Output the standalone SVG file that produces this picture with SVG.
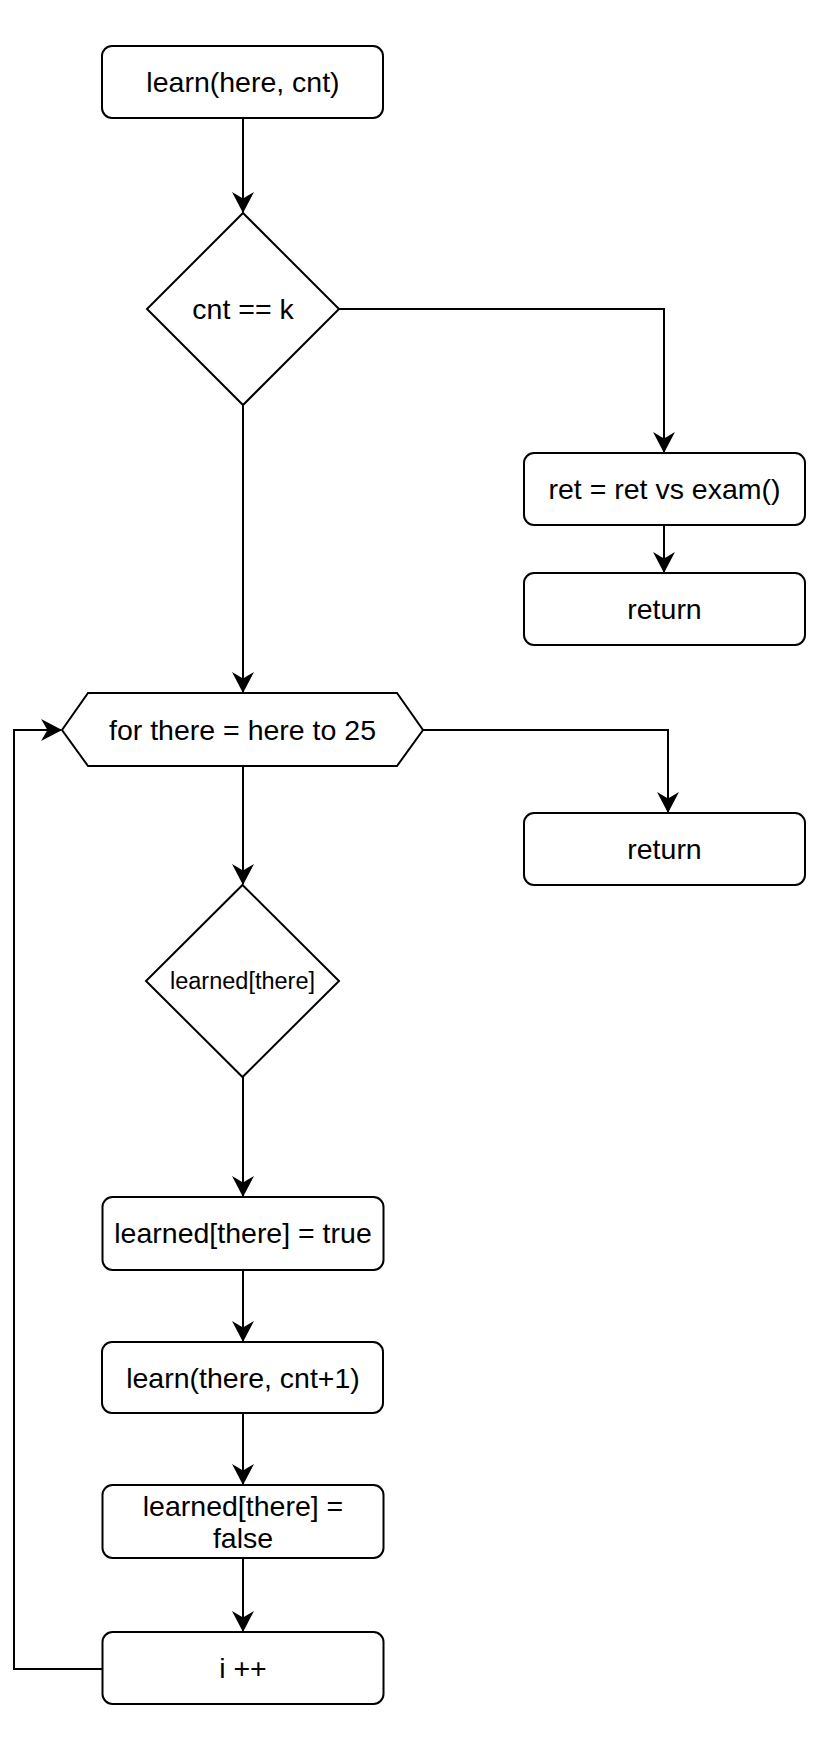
<svg xmlns="http://www.w3.org/2000/svg" width="830" height="1760" viewBox="0 0 830 1760">
<style>
.n{fill:#fff;stroke:#000;stroke-width:2}
.t{font-family:"Liberation Sans",Arial,Helvetica,sans-serif;font-size:28.5px;fill:#000;text-anchor:middle}
.s{font-size:23.5px}
.c{fill:none;stroke:#000;stroke-width:2}
</style>
<defs>
<marker id="a" markerUnits="userSpaceOnUse" markerWidth="22" markerHeight="22" viewBox="0 0 20 21" refX="19" refY="10.5" orient="auto">
<path d="M0,0 L20,10.5 L0,21 L6,10.5 Z" fill="#000"/>
</marker>
</defs>
<rect width="830" height="1760" fill="#fff"/>
<g id="connectors">
<path class="c" d="M243,118 V212" marker-end="url(#a)"/>
<path class="c" d="M339,309 H664 V452" marker-end="url(#a)"/>
<path class="c" d="M664,525 V572" marker-end="url(#a)"/>
<path class="c" d="M243,405 V692" marker-end="url(#a)"/>
<path class="c" d="M422,730 H668 V812" marker-end="url(#a)"/>
<path class="c" d="M243,766 V884" marker-end="url(#a)"/>
<path class="c" d="M243,1077 V1196" marker-end="url(#a)"/>
<path class="c" d="M243,1270 V1341" marker-end="url(#a)"/>
<path class="c" d="M243,1413 V1484" marker-end="url(#a)"/>
<path class="c" d="M243,1558 V1631" marker-end="url(#a)"/>
<path class="c" d="M102,1669 H14 V730 H61" marker-end="url(#a)"/>
</g>
<g id="start">
<rect class="n" x="102" y="46" width="281" height="72" rx="10"/>
<text class="t" x="243" y="92">learn(here, cnt)</text>
</g>
<g id="cond1">
<polygon class="n" points="243,213 339,309 243,405 147,309"/>
<text class="t" x="243" y="319">cnt == k</text>
</g>
<g id="ret">
<rect class="n" x="524" y="453" width="281" height="72" rx="10"/>
<text class="t" x="664.5" y="499">ret = ret vs exam()</text>
</g>
<g id="return1">
<rect class="n" x="524" y="573" width="281" height="72" rx="10"/>
<text class="t" x="664.5" y="619">return</text>
</g>
<g id="loop">
<polygon class="n" points="62,730 88,693 397,693 423,730 397,766 88,766"/>
<text class="t" x="242.5" y="740">for there = here to 25</text>
</g>
<g id="return2">
<rect class="n" x="524" y="813" width="281" height="72" rx="10"/>
<text class="t" x="664.5" y="859">return</text>
</g>
<g id="cond2">
<polygon class="n" points="242.5,885 339,981 242.5,1077 146,981"/>
<text class="t s" x="242.5" y="989">learned[there]</text>
</g>
<g id="settrue">
<rect class="n" x="102.5" y="1197" width="281" height="73" rx="10"/>
<text class="t" x="243" y="1243">learned[there] = true</text>
</g>
<g id="recurse">
<rect class="n" x="102" y="1342" width="281" height="71" rx="10"/>
<text class="t" x="243" y="1388">learn(there, cnt+1)</text>
</g>
<g id="setfalse">
<rect class="n" x="102.5" y="1485" width="281" height="73" rx="10"/>
<text class="t" x="243" y="1516">learned[there] =</text>
<text class="t" x="243" y="1548">false</text>
</g>
<g id="inc">
<rect class="n" x="102.5" y="1632" width="281" height="72" rx="10"/>
<text class="t" x="243" y="1678">i ++</text>
</g>
</svg>
